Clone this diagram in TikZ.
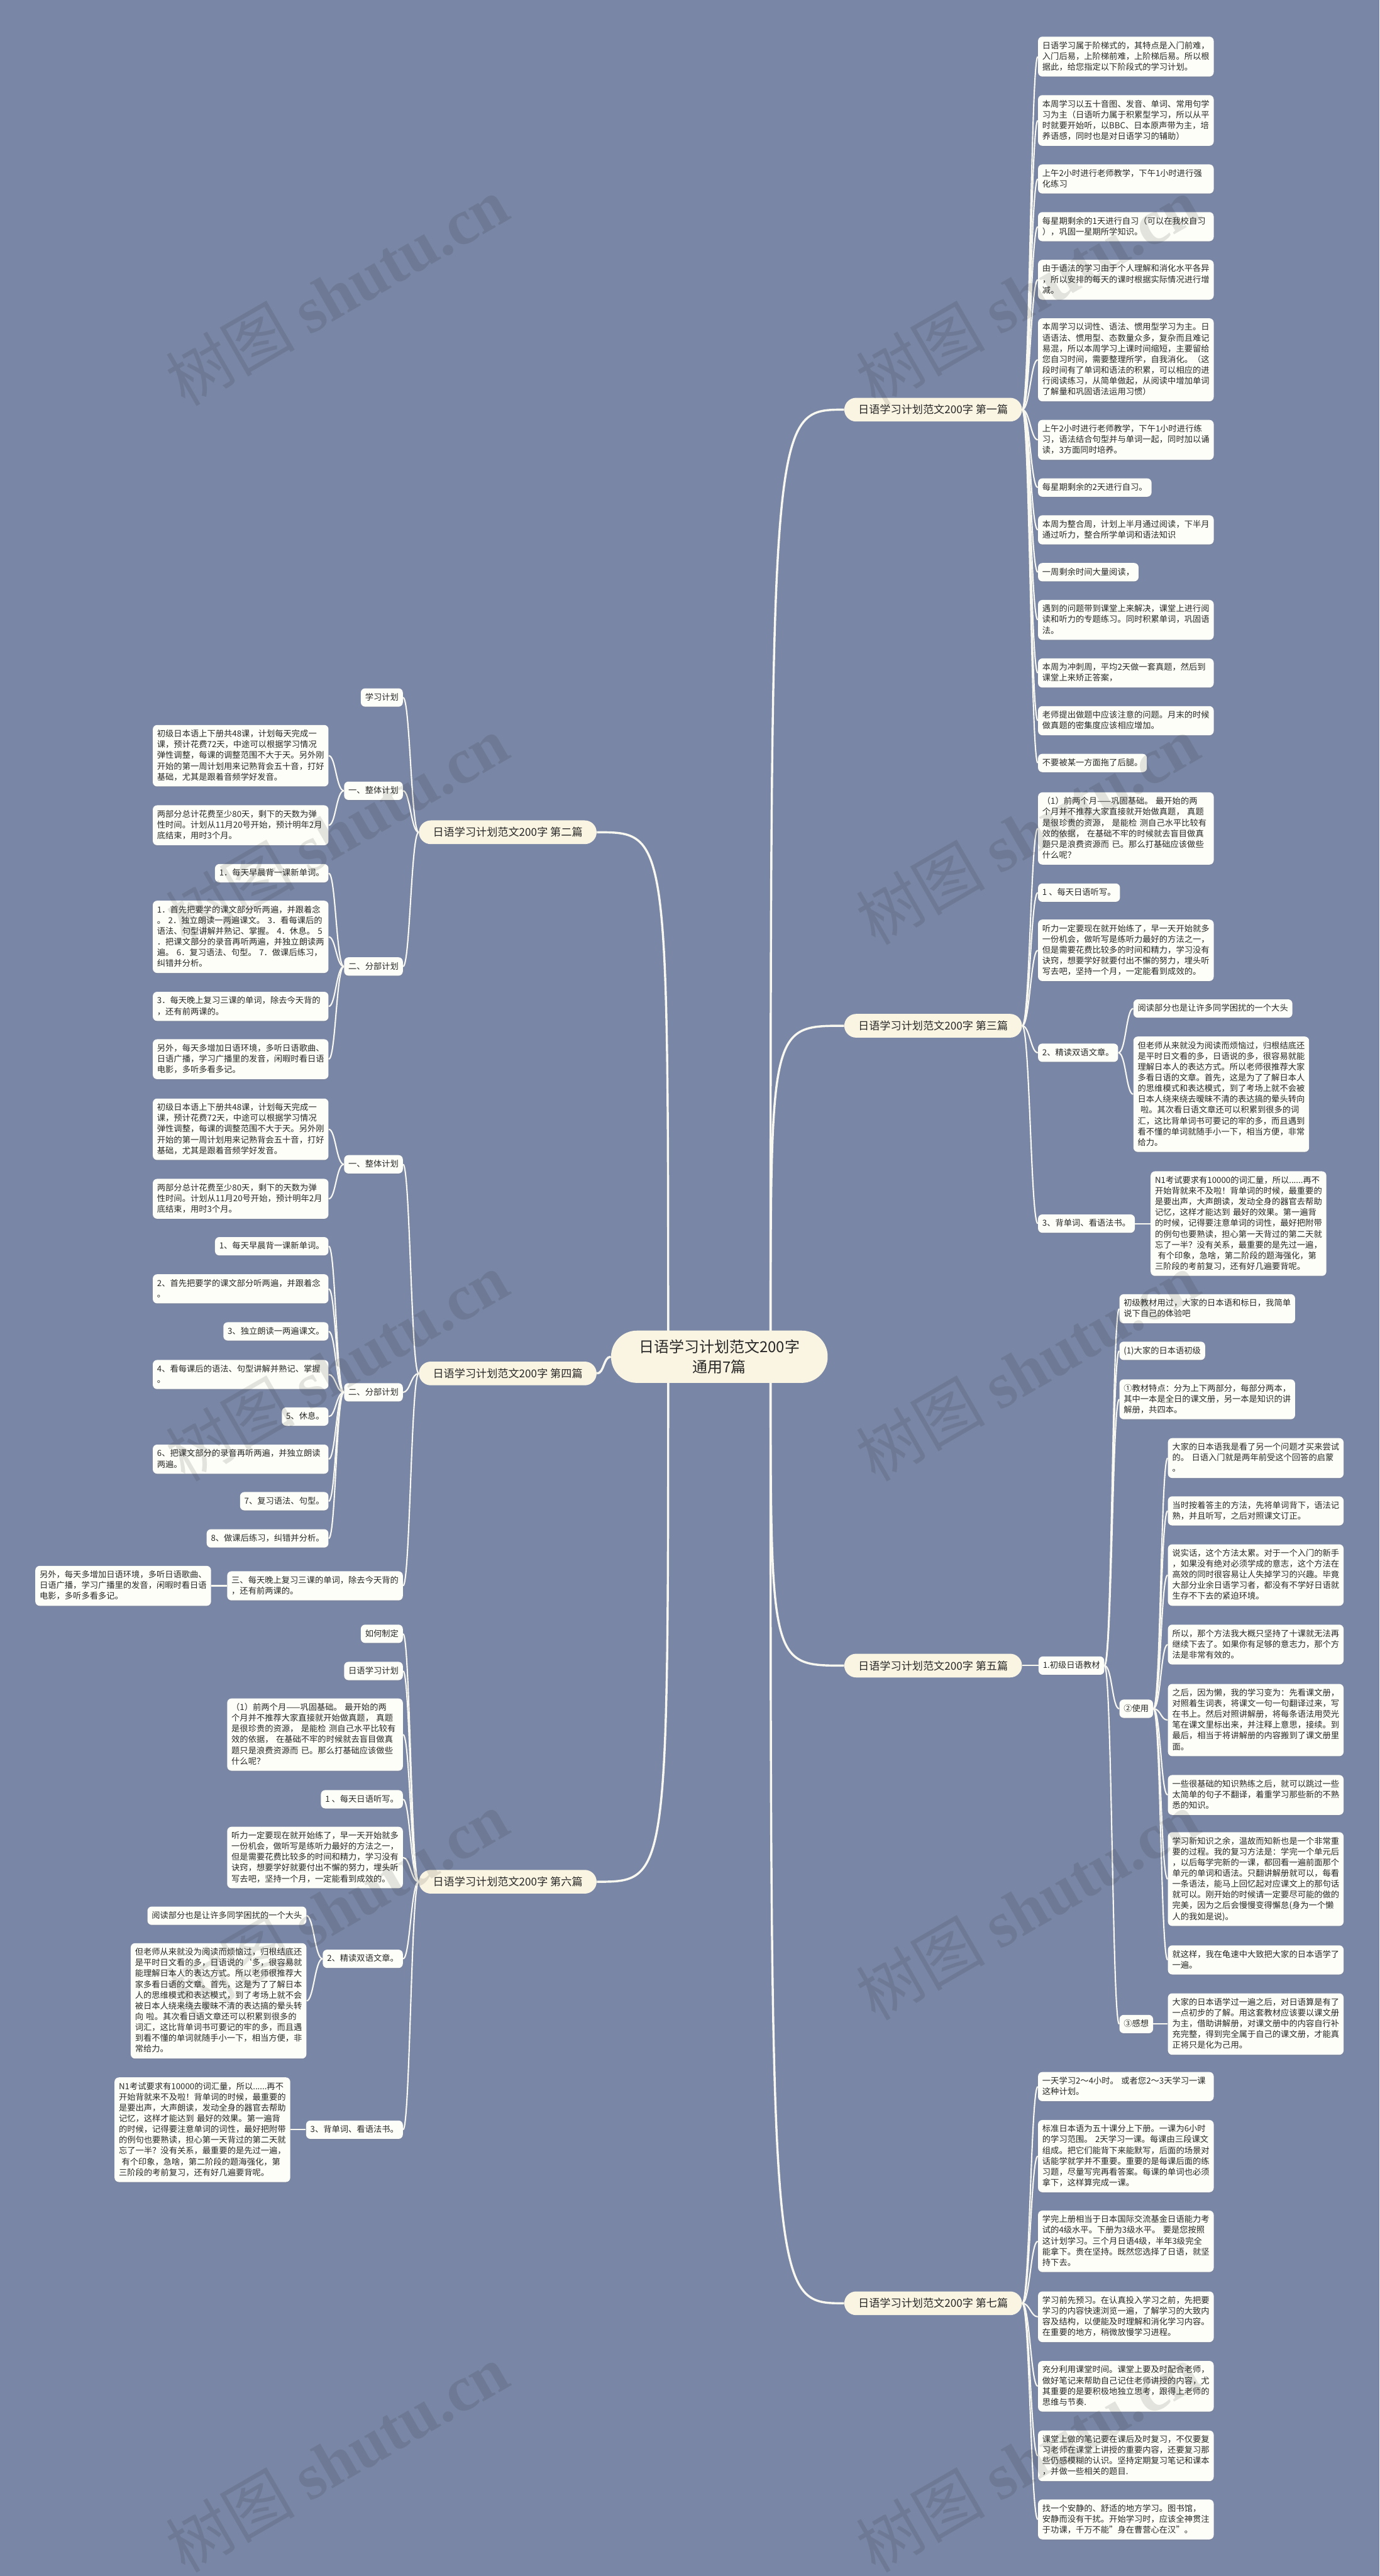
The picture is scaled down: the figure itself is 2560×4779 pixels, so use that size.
\documentclass[tikz,border=0pt]{standalone}
\usepackage{fontspec}
\setmainfont{Noto Sans CJK SC}
\newfontfamily\wmlat{Liberation Serif}
\usetikzlibrary{shadows}
\definecolor{bgcol}{RGB}{121,134,165}
\definecolor{leaffill}{RGB}{254,254,248}
\definecolor{cream}{RGB}{250,245,226}
\definecolor{linecol}{RGB}{248,248,240}
\definecolor{txt}{RGB}{40,40,40}
\newcommand\leaffont{\fontsize{7.75pt}{10pt}\selectfont}
\newcommand\branchfont{\fontsize{10pt}{12pt}\selectfont}
\newcommand\rootfont{\fontsize{14pt}{19pt}\selectfont}
\newcommand\wmfont{\fontsize{60pt}{60pt}\selectfont}
\newcommand\lstrut{\rule[-2.5pt]{0pt}{10pt}}
\pgfdeclarelayer{bg}
\pgfsetlayers{bg,main}
\tikzset{
  leaf/.style={fill=leaffill, rounded corners=4pt, font=\leaffont, text=txt, align=left,
    inner xsep=4pt, inner ysep=3.5pt, execute at begin node=\lstrut, execute at end node=\lstrut,
    drop shadow={shadow xshift=0pt, shadow yshift=-1pt, opacity=0.18}},
  wide/.style={leaf, text width=155pt},
  branch/.style={fill=cream, rounded corners=11pt, font=\branchfont, text=txt, minimum height=22pt,
    inner xsep=13pt, inner ysep=0pt},
  root/.style={fill=cream, rounded corners=24pt, font=\rootfont, text=txt, align=center,
    minimum width=201pt, minimum height=48.5pt},
  conn/.style={draw=linecol, line width=1.25pt},
  mainconn/.style={draw=linecol, line width=2pt},
  wm/.style={text=black!85, text opacity=0.12, rotate=30, font=\wmfont},
}
\begin{document}
\begin{tikzpicture}[x=0.5pt,y=-0.5pt]
\useasboundingbox (0,0) rectangle (2560,4779);
\begin{pgfonlayer}{bg}
\fill[bgcol] (0,0) rectangle (2560,4779);
\end{pgfonlayer}

% root and branches
\node[root] (C) at (1335,2517) {日语学习计划范文200字\\通用7篇};
\node[branch, anchor=east] (B1) at (1897,760) {日语学习计划范文200字 第一篇};
\node[branch, anchor=east] (B3) at (1897,1903) {日语学习计划范文200字 第三篇};
\node[branch, anchor=east] (B5) at (1897,3090) {日语学习计划范文200字 第五篇};
\node[branch, anchor=east] (B7) at (1897,4273) {日语学习计划范文200字 第七篇};
\node[branch, anchor=west] (B2) at (777,1544) {日语学习计划范文200字 第二篇};
\node[branch, anchor=west] (B4) at (777,2548) {日语学习计划范文200字 第四篇};
\node[branch, anchor=west] (B6) at (777,3491) {日语学习计划范文200字 第六篇};
\coordinate (RS) at (1430,2517);
\coordinate (LS) at (1240,2517);

% ---------- branch 1
\node[wide, anchor=west] (L1a) at (1926,105) {日语学习属于阶梯式的，其特点是入门前难，\\入门后易，上阶梯前难，上阶梯后易。所以根\\据此，给您指定以下阶段式的学习计划。};
\node[wide, anchor=west] (L1b) at (1926,223.5) {本周学习以五十音图、发音、单词、常用句学\\习为主（日语听力属于积累型学习，所以从平\\时就要开始听，以BBC、日本原声带为主，培\\养语感，同时也是对日语学习的辅助）};
\node[wide, anchor=west] (L1c) at (1926,332) {上午2小时进行老师教学，下午1小时进行强\\化练习};
\node[wide, anchor=west] (L1d) at (1926,420.5) {每星期剩余的1天进行自习（可以在我校自习\\），巩固一星期所学知识。};
\node[wide, anchor=west] (L1e) at (1926,519) {由于语法的学习由于个人理解和消化水平各异\\，所以安排的每天的课时根据实际情况进行增\\减。};
\node[wide, anchor=west] (L1f) at (1926,667.5) {本周学习以词性、语法、惯用型学习为主。日\\语语法、惯用型、态数量众多，复杂而且难记\\易混，所以本周学习上课时间缩短，主要留给\\您自习时间，需要整理所学，自我消化。（这\\段时间有了单词和语法的积累，可以相应的进\\行阅读练习，从简单做起，从阅读中增加单词\\了解量和巩固语法运用习惯）};
\node[wide, anchor=west] (L1g) at (1926,816) {上午2小时进行老师教学，下午1小时进行练\\习，语法结合句型并与单词一起，同时加以诵\\读，3方面同时培养。};
\node[leaf, anchor=west] (L1h) at (1926,904.5) {每星期剩余的2天进行自习。};
\node[wide, anchor=west] (L1i) at (1926,983) {本周为整合周，计划上半月通过阅读，下半月\\通过听力，整合所学单词和语法知识};
\node[leaf, anchor=west] (L1j) at (1926,1061.5) {一周剩余时间大量阅读，};
\node[wide, anchor=west] (L1k) at (1926,1150) {遇到的问题带到课堂上来解决，课堂上进行阅\\读和听力的专题练习。同时积累单词，巩固语\\法。};
\node[wide, anchor=west] (L1l) at (1926,1248.5) {本周为冲刺周，平均2天做一套真题，然后到\\课堂上来矫正答案，};
\node[wide, anchor=west] (L1m) at (1926,1337) {老师提出做题中应该注意的问题。月末的时候\\做真题的密集度应该相应增加。};
\node[leaf, anchor=west] (L1n) at (1926,1415.5) {不要被某一方面拖了后腿。};

% ---------- branch 3
\node[wide, anchor=west] (L3a) at (1926,1537) {（1）前两个月——巩固基础。~最开始的两\\个月并不推荐大家直接就开始做真题，~真题\\是很珍贵的资源，~是能检~测自己水平比较有\\效的依据，~在基础不牢的时候就去盲目做真\\题只是浪费资源而~已。那么打基础应该做些\\什么呢？};
\node[leaf, anchor=west] (L3b) at (1926,1656) {1~、每天日语听写。};
\node[wide, anchor=west] (L3c) at (1926,1763) {听力一定要现在就开始练了，早一天开始就多\\一份机会，做听写是练听力最好的方法之一，\\但是需要花费比较多的时间和精力，学习没有\\诀窍，想要学好就要付出不懈的努力，埋头听\\写去吧，坚持一个月，一定能看到成效的。};
\node[leaf, anchor=west] (L3d) at (1926,1953) {2、精读双语文章。};
\node[leaf, anchor=west] (L3d1) at (2103,1871) {阅读部分也是让许多同学困扰的一个大头};
\node[wide, anchor=west] (L3d2) at (2103,2030) {但老师从来就没为阅读而烦恼过，归根结底还\\是平时日文看的多，日语说的多，很容易就能\\理解日本人的表达方式。所以老师很推荐大家\\多看日语的文章。首先，这是为了了解日本人\\的思维模式和表达模式，到了考场上就不会被\\日本人绕来绕去暧昧不清的表达搞的晕头转向\\~啦。其次看日语文章还可以积累到很多的词\\汇，这比背单词书可要记的牢的多，而且遇到\\看不懂的单词就随手小一下，相当方便，非常\\给力。};
\node[leaf, anchor=west] (L3e) at (1926,2270) {3、背单词、看语法书。};
\node[wide, anchor=west] (L3e1) at (2135,2270) {N1考试要求有10000的词汇量，所以......再不\\开始背就来不及啦！背单词的时候，最重要的\\是要出声，大声朗读，发动全身的器官去帮助\\记忆，这样才能达到~最好的效果。第一遍背\\的时候，记得要注意单词的词性，最好把附带\\的例句也要熟读，担心第一天背过的第二天就\\忘了一半？没有关系，最重要的是先过一遍，\\~有个印象，急啥，第二阶段的题海强化，第\\三阶段的考前复习，还有好几遍要背呢。};

% ---------- branch 5
\node[leaf, anchor=west] (L5) at (1927,3090) {1.初级日语教材};
\node[wide, anchor=west] (L5a) at (2077,2428) {初级教材用过，大家的日本语和标日，我简单\\说下自己的体验吧};
\node[leaf, anchor=west] (L5b) at (2077,2506) {(1)大家的日本语初级};
\node[wide, anchor=west] (L5c) at (2077,2596) {①教材特点：分为上下两部分，每部分两本，\\其中一本是全日的课文册，另一本是知识的讲\\解册，共四本。};
\node[leaf, anchor=west] (L5d) at (2077,3170) {②使用};
\node[leaf, anchor=west] (L5e) at (2077,3755) {③感想};
\node[wide, anchor=west] (L5d1) at (2167,2705) {大家的日本语我是看了另一个问题才买来尝试\\的。~日语入门就是两年前受这个回答的启蒙\\。};
\node[wide, anchor=west] (L5d2) at (2167,2803) {当时按着答主的方法，先将单词背下，语法记\\熟，并且听写，之后对照课文订正。};
\node[wide, anchor=west] (L5d3) at (2167,2922) {说实话，这个方法太累。对于一个入门的新手\\，如果没有绝对必须学成的意志，这个方法在\\高效的同时很容易让人失掉学习的兴趣。毕竟\\大部分业余日语学习者，都没有不学好日语就\\生存不下去的紧迫环境。};
\node[wide, anchor=west] (L5d4) at (2167,3051) {所以，那个方法我大概只坚持了十课就无法再\\继续下去了。如果你有足够的意志力，那个方\\法是非常有效的。};
\node[wide, anchor=west] (L5d5) at (2167,3191) {之后，因为懒，我的学习变为：先看课文册，\\对照着生词表，将课文一句一句翻译过来，写\\在书上。然后对照讲解册，将每条语法用荧光\\笔在课文里标出来，并注释上意思，接续。到\\最后，相当于将讲解册的内容搬到了课文册里\\面。};
\node[wide, anchor=west] (L5d6) at (2167,3330) {一些很基础的知识熟练之后，就可以跳过一些\\太简单的句子不翻译，着重学习那些新的不熟\\悉的知识。};
\node[wide, anchor=west] (L5d7) at (2167,3486) {学习新知识之余，温故而知新也是一个非常重\\要的过程。我的复习方法是：学完一个单元后\\，以后每学完新的一课，都回看一遍前面那个\\单元的单词和语法。只翻讲解册就可以，每看\\一条语法，能马上回忆起对应课文上的那句话\\就可以。刚开始的时候请一定要尽可能的做的\\完美，因为之后会慢慢变得懈怠(身为一个懒\\人的我如是说)。};
\node[wide, anchor=west] (L5d8) at (2167,3636) {就这样，我在龟速中大致把大家的日本语学了\\一遍。};
\node[wide, anchor=west] (L5e1) at (2167,3755) {大家的日本语学过一遍之后，对日语算是有了\\一点初步的了解。用这套教材应该要以课文册\\为主，借助讲解册，对课文册中的内容自行补\\充完整，得到完全属于自己的课文册，才能真\\正将只是化为己用。};

% ---------- branch 7
\node[wide, anchor=west] (L7a) at (1926,3871) {一天学习2～4小时。~或者您2～3天学习一课\\这种计划。};
\node[wide, anchor=west] (L7b) at (1926,4000) {标准日本语为五十课分上下册。一课为6小时\\的学习范围。~2天学习一课。每课由三段课文\\组成。把它们能背下来能默写，后面的场景对\\话能学就学并不重要。重要的是每课后面的练\\习题，尽量写完再看答案。每课的单词也必须\\拿下，这样算完成一课。};
\node[wide, anchor=west] (L7c) at (1926,4158) {学完上册相当于日本国际交流基金日语能力考\\试的4级水平。下册为3级水平。~要是您按照\\这计划学习。三个月日语4级，半年3级完全\\能拿下。贵在坚持。既然您选择了日语，就坚\\持下去。};
\node[wide, anchor=west] (L7d) at (1926,4298) {学习前先预习。在认真投入学习之前，先把要\\学习的内容快速浏览一遍，了解学习的大致内\\容及结构，以便能及时理解和消化学习内容。\\在重要的地方，稍微放慢学习进程。};
\node[wide, anchor=west] (L7e) at (1926,4427) {充分利用课堂时间。课堂上要及时配合老师，\\做好笔记来帮助自己记住老师讲授的内容，尤\\其重要的是要积极地独立思考，跟得上老师的\\思维与节奏.};
\node[wide, anchor=west] (L7f) at (1926,4556) {课堂上做的笔记要在课后及时复习，不仅要复\\习老师在课堂上讲授的重要内容，还要复习那\\些仍感模糊的认识。坚持定期复习笔记和课本\\，并做一些相关的题目.};
\node[wide, anchor=west] (L7g) at (1926,4674) {找一个安静的、舒适的地方学习。图书馆，\\安静而没有干扰。开始学习时，应该全神贯注\\于功课，千万不能"身在曹营心在汉"。};

% ---------- branch 2
\node[leaf, anchor=east] (A2a) at (748,1294) {学习计划};
\node[leaf, anchor=east] (A2b) at (748,1467) {一、整体计划};
\node[wide, anchor=east] (A2b1) at (610,1402) {初级日本语上下册共48课，计划每天完成一\\课，预计花费72天，中途可以根据学习情况\\弹性调整，每课的调整范围不大于天。另外刚\\开始的第一周计划用来记熟背会五十音，打好\\基础，尤其是跟着音频学好发音。};
\node[wide, anchor=east] (A2b2) at (610,1531) {两部分总计花费至少80天，剩下的天数为弹\\性时间。计划从11月20号开始，预计明年2月\\底结束，用时3个月。};
\node[leaf, anchor=east] (A2c) at (748,1793) {二、分部计划};
\node[leaf, anchor=east] (A2c1) at (610,1620) {1．每天早晨背一课新单词。};
\node[wide, anchor=east] (A2c2) at (610,1738) {1．首先把要学的课文部分听两遍，并跟着念\\。~2．独立朗读一两遍课文。~3．看每课后的\\语法、句型讲解并熟记、掌握。~4．休息。~5\\．把课文部分的录音再听两遍，并独立朗读两\\遍。~6．复习语法、句型。~7．做课后练习，\\纠错并分析。};
\node[wide, anchor=east] (A2c3) at (610,1867) {3．每天晚上复习三课的单词，除去今天背的\\，还有前两课的。};
\node[wide, anchor=east] (A2c4) at (610,1965) {另外，每天多增加日语环境，多听日语歌曲、\\日语广播，学习广播里的发音，闲暇时看日语\\电影，多听多看多记。};

% ---------- branch 4
\node[leaf, anchor=east] (A4a) at (748,2160) {一、整体计划};
\node[wide, anchor=east] (A4a1) at (610,2095) {初级日本语上下册共48课，计划每天完成一\\课，预计花费72天，中途可以根据学习情况\\弹性调整，每课的调整范围不大于天。另外刚\\开始的第一周计划用来记熟背会五十音，打好\\基础，尤其是跟着音频学好发音。};
\node[wide, anchor=east] (A4a2) at (610,2224) {两部分总计花费至少80天，剩下的天数为弹\\性时间。计划从11月20号开始，预计明年2月\\底结束，用时3个月。};
\node[leaf, anchor=east] (A4b) at (748,2583) {二、分部计划};
\node[leaf, anchor=east] (A4b1) at (610,2312) {1、每天早晨背一课新单词。};
\node[wide, anchor=east] (A4b2) at (610,2391) {2、首先把要学的课文部分听两遍，并跟着念\\。};
\node[leaf, anchor=east] (A4b3) at (610,2470) {3、独立朗读一两遍课文。};
\node[wide, anchor=east] (A4b4) at (610,2550) {4、看每课后的语法、句型讲解并熟记、掌握\\。};
\node[leaf, anchor=east] (A4b5) at (610,2628) {5、休息。};
\node[wide, anchor=east] (A4b6) at (610,2707) {6、把课文部分的录音再听两遍，并独立朗读\\两遍。};
\node[leaf, anchor=east] (A4b7) at (610,2785) {7、复习语法、句型。};
\node[leaf, anchor=east] (A4b8) at (610,2854) {8、做课后练习，纠错并分析。};
\node[wide, anchor=east] (A4c) at (748,2942) {三、每天晚上复习三课的单词，除去今天背的\\，还有前两课的。};
\node[wide, anchor=east] (A4c1) at (392,2942) {另外，每天多增加日语环境，多听日语歌曲、\\日语广播，学习广播里的发音，闲暇时看日语\\电影，多听多看多记。};

% ---------- branch 6
\node[leaf, anchor=east] (A6a) at (748,3031) {如何制定};
\node[leaf, anchor=east] (A6b) at (748,3100) {日语学习计划};
\node[wide, anchor=east] (A6c) at (748,3218) {（1）前两个月——巩固基础。~最开始的两\\个月并不推荐大家直接就开始做真题，~真题\\是很珍贵的资源，~是能检~测自己水平比较有\\效的依据，~在基础不牢的时候就去盲目做真\\题只是浪费资源而~已。那么打基础应该做些\\什么呢？};
\node[leaf, anchor=east] (A6d) at (748,3338) {1~、每天日语听写。};
\node[wide, anchor=east] (A6e) at (748,3446) {听力一定要现在就开始练了，早一天开始就多\\一份机会，做听写是练听力最好的方法之一，\\但是需要花费比较多的时间和精力，学习没有\\诀窍，想要学好就要付出不懈的努力，埋头听\\写去吧，坚持一个月，一定能看到成效的。};
\node[leaf, anchor=east] (A6f) at (748,3634) {2、精读双语文章。};
\node[leaf, anchor=east] (A6f1) at (569,3554) {阅读部分也是让许多同学困扰的一个大头};
\node[wide, anchor=east] (A6f2) at (569,3712) {但老师从来就没为阅读而烦恼过，归根结底还\\是平时日文看的多，日语说的\symbol{96}多，很容易就\\能理解日本人的表达方式。所以老师很推荐大\\家多看日语的文章。首先，这是为了了解日本\\人的思维模式和表达模式，到了考场上就不会\\被日本人绕来绕去暧昧不清的表达搞的晕头转\\向~啦。其次看日语文章还可以积累到很多的\\词汇，这比背单词书可要记的牢的多，而且遇\\到看不懂的单词就随手小一下，相当方便，非\\常给力。};
\node[leaf, anchor=east] (A6g) at (748,3951) {3、背单词、看语法书。};
\node[wide, anchor=east] (A6g1) at (539,3951) {N1考试要求有10000的词汇量，所以......再不\\开始背就来不及啦！背单词的时候，最重要的\\是要出声，大声朗读，发动全身的器官去帮助\\记忆，这样才能达到~最好的效果。第一遍背\\的时候，记得要注意单词的词性，最好把附带\\的例句也要熟读，担心第一天背过的第二天就\\忘了一半？没有关系，最重要的是先过一遍，\\~有个印象，急啥，第二阶段的题海强化，第\\三阶段的考前复习，还有好几遍要背呢。};

% ---------- connectors
\begin{pgfonlayer}{bg}
\foreach \b in {B1,B3,B5,B7}
  \draw[mainconn] (RS) .. controls (RS |- \b.west) and (RS |- \b.west) .. (\b.west);
\foreach \b in {B2,B6}
  \draw[mainconn] (LS) .. controls (LS |- \b.east) and (LS |- \b.east) .. (\b.east);
\draw[mainconn] (C.west) .. controls +(-14,0) and +(14,0) .. (B4.east);
% right side
\foreach \p/\cl in {B1/{L1a,L1b,L1c,L1d,L1e,L1f,L1g,L1h,L1i,L1j,L1k,L1l,L1m,L1n},
                   B3/{L3a,L3b,L3c,L3d,L3e}, L3d/{L3d1,L3d2}, L3e/{L3e1},
                   B5/{L5}, L5/{L5a,L5b,L5c,L5d,L5e},
                   L5d/{L5d1,L5d2,L5d3,L5d4,L5d5,L5d6,L5d7,L5d8}, L5e/{L5e1},
                   B7/{L7a,L7b,L7c,L7d,L7e,L7f,L7g}}
  \foreach \c in \cl
    \draw[conn] (\p.east) .. controls +(14,0) and +(-13,0) .. (\c.west);
% left side
\foreach \p/\cl in {B2/{A2a,A2b,A2c}, A2b/{A2b1,A2b2}, A2c/{A2c1,A2c2,A2c3,A2c4},
                   B4/{A4a,A4b,A4c}, A4a/{A4a1,A4a2}, A4b/{A4b1,A4b2,A4b3,A4b4,A4b5,A4b6,A4b7,A4b8}, A4c/{A4c1},
                   B6/{A6a,A6b,A6c,A6d,A6e,A6f,A6g}, A6f/{A6f1,A6f2}, A6g/{A6g1}}
  \foreach \c in \cl
    \draw[conn] (\p.west) .. controls +(-14,0) and +(13,0) .. (\c.east);
\end{pgfonlayer}

% ---------- watermarks
\foreach \y in {540,1540,2535,3535,4560} {
  \node[wm] (wl\y) at (625,\y) {树图 {\wmlat\bfseries shutu.cn}};
  \node[wm] (wr\y) at (1907,\y) {树图 {\wmlat\bfseries shutu.cn}};
}
\end{tikzpicture}
\end{document}
